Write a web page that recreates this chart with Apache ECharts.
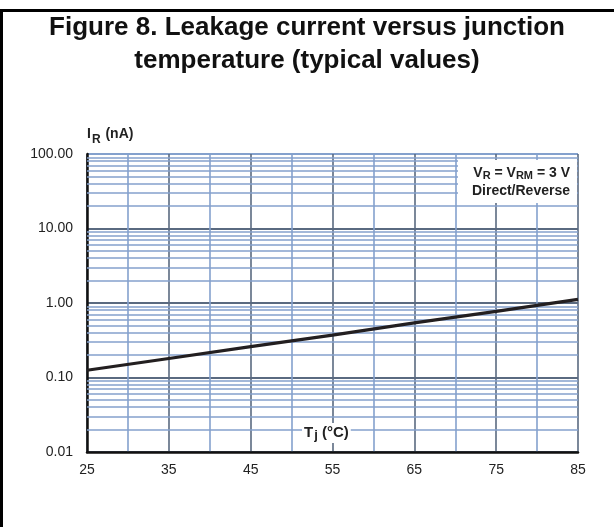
<!DOCTYPE html>
<html>
<head>
<meta charset="utf-8">
<script src="https://cdn.jsdelivr.net/npm/echarts@6/dist/echarts.min.js"></script>
<style>
html,body{margin:0;padding:0;background:#fff;}
#wrap{position:relative;width:614px;height:527px;}
#chart{position:absolute;left:0;top:0;width:614px;height:527px;}
#frame{position:absolute;left:0;top:9px;width:614px;height:518px;border-left:3px solid #000;border-top:3px solid #000;box-sizing:border-box;pointer-events:none;}
</style>
</head>
<body>
<div id="wrap"><div id="chart"></div><div id="frame"></div></div>
<script>
// Data
const temperatures = [25, 35, 45, 55, 65, 75, 85];            // Tj (°C)
const leakageCurrent = [0.125, 0.18, 0.26, 0.37, 0.54, 0.77, 1.12]; // IR (nA)
const xTickLabels = [25, 35, 45, 55, 65, 75, 85];
const yTickLabels = [0.01, 0.1, 1, 10, 100];
const minorMultipliers = [2, 3, 4, 5, 6, 7, 8, 9];
const decades = [0.01, 0.1, 1, 10];

const minorLines = [];
decades.forEach(d => minorMultipliers.forEach(m => minorLines.push({ yAxis: +(d * m).toPrecision(3) })));

const FONT = '"Liberation Sans", Arial, Helvetica, sans-serif';
const DARK = '#5a6a80';
const LIGHT = '#84a1cd';

const chart = echarts.init(document.getElementById('chart'), null, { renderer: 'canvas' });
chart.setOption({
  animation: false,
  backgroundColor: '#fff',
  grid: { left: 87, right: 36, top: 154, bottom: 75, containLabel: false },
  xAxis: {
    type: 'value', min: 25, max: 85, interval: 5,
    axisLine: { show: true, onZero: false, lineStyle: { color: '#111', width: 2.5 } },
    axisTick: { show: false },
    axisLabel: {
      margin: 11, fontFamily: FONT, fontSize: 14, color: '#222',
      formatter: v => xTickLabels.includes(v) ? String(v) : ''
    },
    splitLine: { show: true, lineStyle: { color: [DARK, LIGHT], width: 1.6 } }
  },
  yAxis: {
    type: 'log', logBase: 10, min: 0.01, max: 100,
    axisLine: { show: true, onZero: false, lineStyle: { color: '#111', width: 2.5 } },
    axisTick: { show: false },
    axisLabel: {
      margin: 14, fontFamily: FONT, fontSize: 14, color: '#222',
      formatter: v => yTickLabels.some(t => Math.abs(t - v) / t < 1e-6) ? v.toFixed(2) : ''
    },
    splitLine: { show: true, lineStyle: { color: [DARK, DARK, DARK, DARK, LIGHT], width: 2 } }
  },
  series: [
    {
      type: 'line', z: 1, silent: true,
      data: temperatures.map((t, i) => [t, leakageCurrent[i]]),
      showSymbol: false, lineStyle: { opacity: 0 },
      markLine: {
        silent: true, symbol: ['none', 'none'], label: { show: false },
        lineStyle: { color: LIGHT, width: 1.5, type: 'solid' },
        data: minorLines
      }
    },
    {
      type: 'line', z: 5,
      data: temperatures.map((t, i) => [t, leakageCurrent[i]]),
      showSymbol: false, smooth: false,
      lineStyle: { color: '#231f20', width: 3.2 }
    }
  ],
  graphic: [
    {
      type: 'text', x: 307, y: 28, z: 100,
      style: {
        text: 'Figure 8. Leakage current versus junction',
        font: 'bold 26px ' + FONT, fill: '#111', align: 'center', verticalAlign: 'middle'
      }
    },
    {
      type: 'text', x: 307, y: 61, z: 100,
      style: {
        text: 'temperature (typical values)',
        font: 'bold 26px ' + FONT, fill: '#111', align: 'center', verticalAlign: 'middle'
      }
    },
    {
      type: 'text', x: 87, y: 127, z: 100,
      style: {
        text: '{a|I}{s|R}{a| (nA)}',
        rich: {
          a: { font: 'bold 14px ' + FONT, fill: '#222', lineHeight: 18, verticalAlign: 'top' },
          s: { font: 'bold 12px ' + FONT, fill: '#222', padding: [7, 1, 0, 1], lineHeight: 18 }
        }
      }
    },
    {
      type: 'rect', z: 90, silent: true,
      shape: { x: 458, y: 160, width: 119, height: 43 },
      style: { fill: '#fff' }
    },
    {
      type: 'text', x: 570, y: 164, z: 100,
      style: {
        text: '{a|V}{s|R}{a| = V}{s|RM}{a| = 3 V}\n{a|Direct/Reverse}',
        align: 'right',
        rich: {
          a: { font: 'bold 14px ' + FONT, fill: '#222', lineHeight: 18 },
          s: { font: 'bold 11px ' + FONT, fill: '#222', padding: [6, 0, 0, 0], lineHeight: 18 }
        }
      }
    },
    {
      type: 'text', x: 302, y: 423, z: 100,
      style: {
        text: '{a|T}{s|j}{a| (°C)}',
        backgroundColor: '#fff', padding: [1, 2, 1, 2],
        rich: {
          a: { font: 'bold 15px ' + FONT, fill: '#222', lineHeight: 18 },
          s: { font: 'bold 13px ' + FONT, fill: '#222', padding: [5, 0, 0, 1], lineHeight: 18 }
        }
      }
    }
  ]
});
</script>
</body>
</html>
